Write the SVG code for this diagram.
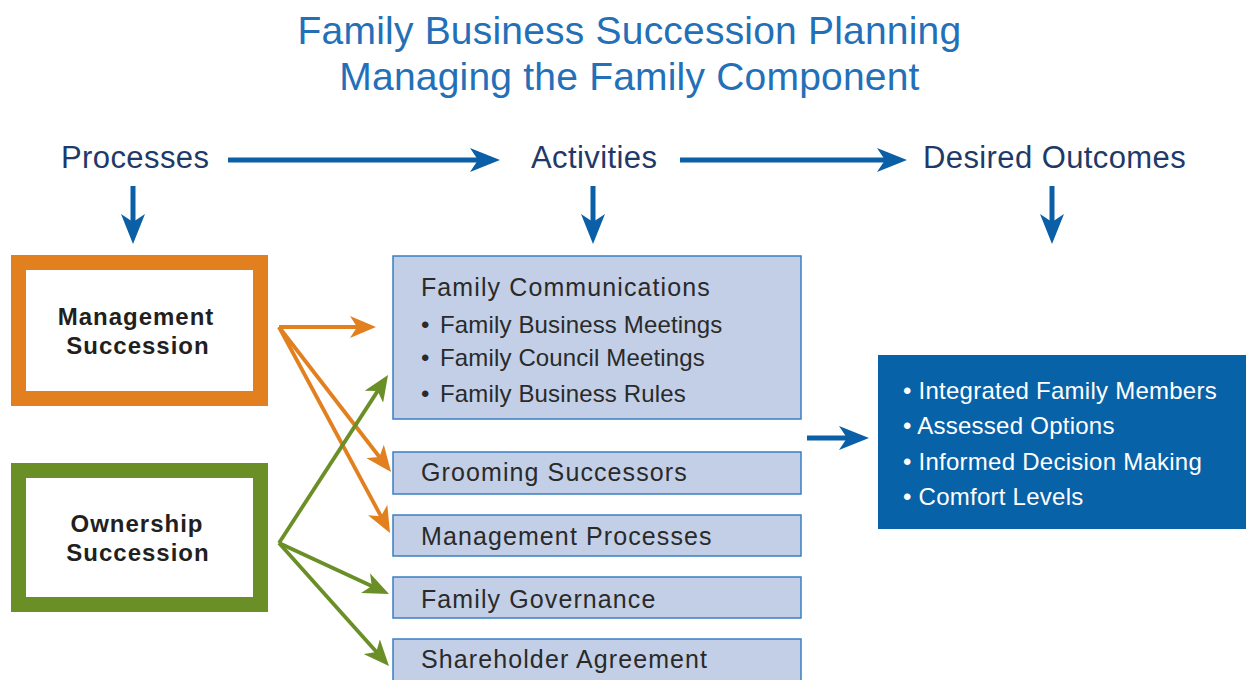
<svg xmlns="http://www.w3.org/2000/svg" width="1251" height="680" viewBox="0 0 1251 680">
  <style>
    .title { font-family: "Liberation Sans", Arial, sans-serif; font-size: 39px; fill: #2370b8; letter-spacing: 0.2px; text-anchor: middle; }
    .hdr { font-family: "Liberation Sans", Arial, sans-serif; font-size: 31px; fill: #1f3a68; letter-spacing: 0.4px; }
    .proc { font-family: "Liberation Sans", Arial, sans-serif; font-size: 24px; font-weight: bold; fill: #231f20; text-anchor: middle; letter-spacing: 1px; }
    .act { fill: #c2cfe6; stroke: #3a7fc2; stroke-width: 1.5; }
    .acttxt { font-family: "Liberation Sans", Arial, sans-serif; font-size: 25px; fill: #2a2a2a; letter-spacing: 1.1px; }
    .bul { font-family: "Liberation Sans", Arial, sans-serif; font-size: 24px; fill: #2a2a2a; letter-spacing: 0.15px; }
    .out { font-family: "Liberation Sans", Arial, sans-serif; font-size: 24px; fill: #ffffff; letter-spacing: 0.25px; }
    .blue { stroke: #0a5fa6; stroke-width: 5; fill: none; marker-end: url(#mBlue); }
    .org { stroke: #e2801f; stroke-width: 3.8; fill: none; marker-end: url(#mOrg); }
    .grn { stroke: #6a8f26; stroke-width: 3.8; fill: none; marker-end: url(#mGrn); }
  </style>
  <defs>
    <marker id="mBlue" markerUnits="userSpaceOnUse" viewBox="0 0 30 24" refX="10" refY="12" markerWidth="30" markerHeight="24" orient="auto">
      <path d="M30,12 L0,0 L8,12 L0,24 Z" fill="#0a5fa6"/>
    </marker>
    <marker id="mOrg" markerUnits="userSpaceOnUse" viewBox="0 0 26 22" refX="14" refY="11" markerWidth="26" markerHeight="22" orient="auto">
      <path d="M26,11 L0,0 L7,11 L0,22 Z" fill="#e2801f"/>
    </marker>
    <marker id="mGrn" markerUnits="userSpaceOnUse" viewBox="0 0 26 22" refX="14" refY="11" markerWidth="26" markerHeight="22" orient="auto">
      <path d="M26,11 L0,0 L7,11 L0,22 Z" fill="#6a8f26"/>
    </marker>
  </defs>
  <rect width="1251" height="680" fill="#ffffff"/>

  <g id="title">
    <text class="title" x="629.5" y="44">Family Business Succession Planning</text>
    <text class="title" x="629.5" y="90">Managing the Family Component</text>
  </g>

  <g id="hdr-processes"><text class="hdr" x="61" y="168">Processes</text></g>
  <g id="hdr-activities"><text class="hdr" x="531" y="168">Activities</text></g>
  <g id="hdr-outcomes"><text class="hdr" x="923" y="168">Desired Outcomes</text></g>

  <g id="node-management">
    <rect x="18.5" y="262.5" width="242" height="136" fill="#ffffff" stroke="#e2801f" stroke-width="15"/>
    <text class="proc" x="136" y="325">Management</text>
    <text class="proc" x="138" y="354">Succession</text>
  </g>
  <g id="node-ownership">
    <rect x="18.5" y="470.5" width="242" height="134" fill="#ffffff" stroke="#6a8f26" stroke-width="15"/>
    <text class="proc" x="137" y="532">Ownership</text>
    <text class="proc" x="138" y="561">Succession</text>
  </g>

  <g id="node-family-communications">
    <rect class="act" x="393" y="256" width="408" height="163"/>
    <text class="acttxt" x="421" y="296">Family Communications</text>
    <text class="bul" x="421" y="333"><tspan>•</tspan><tspan x="440">Family Business Meetings</tspan></text>
    <text class="bul" x="421" y="366"><tspan>•</tspan><tspan x="440">Family Council Meetings</tspan></text>
    <text class="bul" x="421" y="402"><tspan>•</tspan><tspan x="440">Family Business Rules</tspan></text>
  </g>
  <g id="node-grooming">
    <rect class="act" x="393" y="452" width="408" height="42"/>
    <text class="acttxt" x="421" y="481">Grooming Successors</text>
  </g>
  <g id="node-mgmt-processes">
    <rect class="act" x="393" y="515" width="408" height="41"/>
    <text class="acttxt" x="421" y="545">Management Processes</text>
  </g>
  <g id="node-governance">
    <rect class="act" x="393" y="577" width="408" height="41"/>
    <text class="acttxt" x="421" y="608">Family Governance</text>
  </g>
  <g id="node-shareholder">
    <rect class="act" x="393" y="639" width="408" height="55"/>
    <text class="acttxt" x="421" y="668">Shareholder Agreement</text>
  </g>

  <g id="node-outcomes">
    <rect x="878" y="355" width="368" height="174" fill="#0862a8"/>
    <text class="out" x="903" y="399">• Integrated Family Members</text>
    <text class="out" x="903" y="434">• Assessed Options</text>
    <text class="out" x="903" y="470">• Informed Decision Making</text>
    <text class="out" x="903" y="505">• Comfort Levels</text>
  </g>

  <g id="connectors">
    <line class="blue" x1="228" y1="160" x2="480" y2="160"/>
    <line class="blue" x1="680" y1="160" x2="887" y2="160"/>
    <line class="blue" x1="133" y1="186" x2="133" y2="224"/>
    <line class="blue" x1="593" y1="186" x2="593" y2="224"/>
    <line class="blue" x1="1052" y1="186" x2="1052" y2="224"/>
    <line class="blue" x1="807" y1="438" x2="849" y2="438" stroke-width="6"/>

    <line class="org" x1="279" y1="327" x2="364" y2="327"/>
    <line class="org" x1="279" y1="327" x2="383.7" y2="462.5"/>
    <line class="org" x1="279" y1="327" x2="384.3" y2="522.4"/>

    <line class="grn" x1="279" y1="543" x2="381.5" y2="385.1"/>
    <line class="grn" x1="279" y1="543" x2="378.1" y2="589"/>
    <line class="grn" x1="279" y1="543" x2="381" y2="657.1"/>
  </g>
</svg>
